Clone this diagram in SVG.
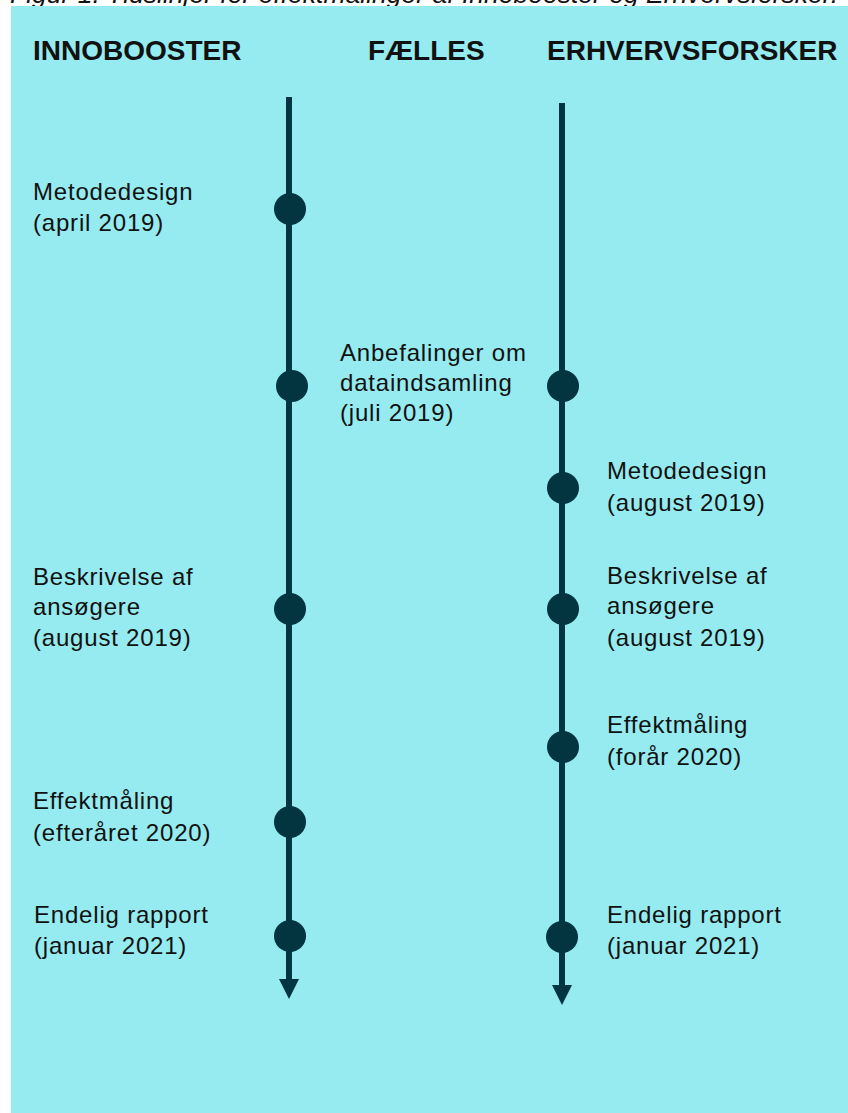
<svg xmlns="http://www.w3.org/2000/svg" width="848" height="1113" viewBox="0 0 848 1113">
  <style>
    .bg { fill: #95EBEF; }
    .line { stroke: #02353F; stroke-width: 6; fill: none; }
    .dot { fill: #02353F; }
    .arrow { fill: #02353F; }
    .hd { font-family: "Liberation Sans", Arial, sans-serif; font-weight: bold; font-size: 28px; fill: #111111; }
    .lb { font-family: "Liberation Sans", Arial, sans-serif; font-size: 24px; letter-spacing: 0.8px; fill: #111111; }
    .cap { font-family: "Liberation Sans", Arial, sans-serif; font-style: italic; font-size: 26.5px; fill: #111111; }
  </style>
  <rect x="0" y="0" width="848" height="1113" fill="#ffffff"/>
  <text class="cap" x="10" y="3">Figur 1. Tidslinjer for effektmålinger af Innobooster og Erhvervsforsker.</text>
  <rect class="bg" x="11" y="6" width="837" height="1107"/>

  <g id="headings">
    <text class="hd" x="33" y="60">INNOBOOSTER</text>
    <text class="hd" x="368" y="60">FÆLLES</text>
    <text class="hd" x="547" y="60">ERHVERVSFORSKER</text>
  </g>

  <g id="connectors">
    <line class="line" x1="289" y1="97" x2="289" y2="981"/>
    <polygon class="arrow" points="279,979 299,979 289,999"/>
    <line class="line" x1="562" y1="103" x2="562" y2="987"/>
    <polygon class="arrow" points="552,985 572,985 562,1005"/>
  </g>

  <g id="ib-metodedesign">
    <circle class="dot" cx="290" cy="209" r="16"/>
    <text class="lb" x="33" y="200">Metodedesign</text>
    <text class="lb" x="33" y="231">(april 2019)</text>
  </g>
  <g id="ib-beskrivelse">
    <circle class="dot" cx="290" cy="609" r="16"/>
    <text class="lb" x="33" y="585">Beskrivelse af</text>
    <text class="lb" x="33" y="615">ansøgere</text>
    <text class="lb" x="33" y="646">(august 2019)</text>
  </g>
  <g id="ib-effektmaaling">
    <circle class="dot" cx="290" cy="822" r="16"/>
    <text class="lb" x="33" y="809">Effektmåling</text>
    <text class="lb" x="33" y="841">(efteråret 2020)</text>
  </g>
  <g id="ib-endelig">
    <circle class="dot" cx="290" cy="936" r="16"/>
    <text class="lb" x="34" y="923">Endelig rapport</text>
    <text class="lb" x="34" y="954">(januar 2021)</text>
  </g>

  <g id="faelles-anbefalinger">
    <circle class="dot" cx="292" cy="386" r="16"/>
    <circle class="dot" cx="563" cy="386" r="16"/>
    <text class="lb" x="340" y="361">Anbefalinger om</text>
    <text class="lb" x="340" y="391">dataindsamling</text>
    <text class="lb" x="340" y="421">(juli 2019)</text>
  </g>

  <g id="ef-metodedesign">
    <circle class="dot" cx="563" cy="488" r="16"/>
    <text class="lb" x="607" y="479">Metodedesign</text>
    <text class="lb" x="607" y="511">(august 2019)</text>
  </g>
  <g id="ef-beskrivelse">
    <circle class="dot" cx="563" cy="609" r="16"/>
    <text class="lb" x="607" y="584">Beskrivelse af</text>
    <text class="lb" x="607" y="614">ansøgere</text>
    <text class="lb" x="607" y="646">(august 2019)</text>
  </g>
  <g id="ef-effektmaaling">
    <circle class="dot" cx="563" cy="747" r="16"/>
    <text class="lb" x="607" y="733">Effektmåling</text>
    <text class="lb" x="607" y="765">(forår 2020)</text>
  </g>
  <g id="ef-endelig">
    <circle class="dot" cx="562" cy="937" r="16"/>
    <text class="lb" x="607" y="923">Endelig rapport</text>
    <text class="lb" x="607" y="954">(januar 2021)</text>
  </g>
</svg>
